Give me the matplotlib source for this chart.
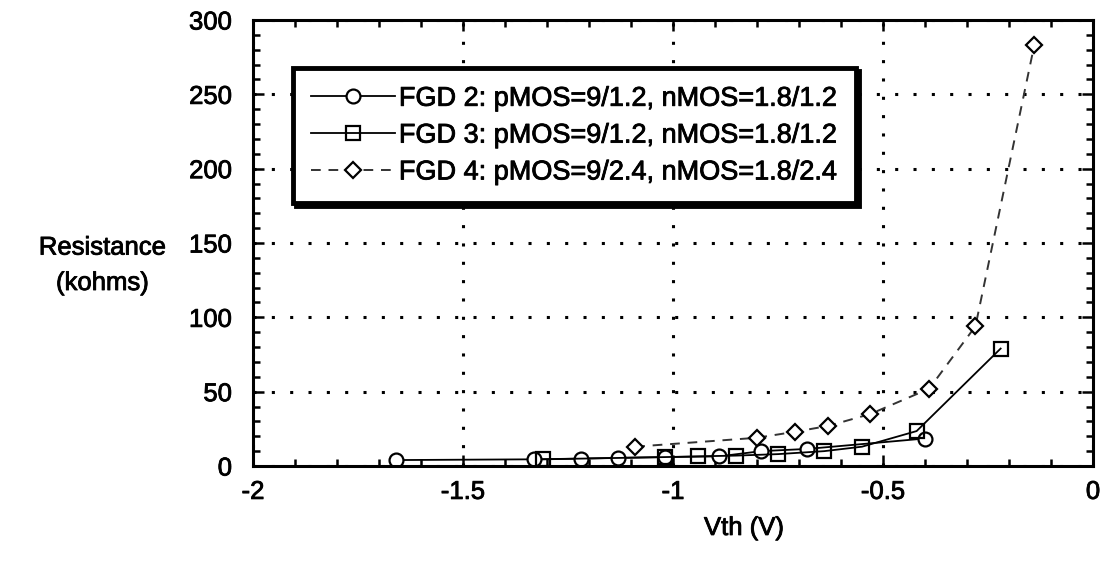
import matplotlib
matplotlib.use("Agg")
import matplotlib.pyplot as plt
import matplotlib.patheffects as pe
from matplotlib.ticker import MultipleLocator

plt.rcParams['font.family'] = ['Liberation Sans', 'DejaVu Sans']
plt.rcParams['axes.unicode_minus'] = False

# threshold voltage (V) vs. resistance (kohms) for the three FGD sizes
vth_fgd2 = [-1.66, -1.33, -1.22, -1.13, -1.02, -0.89, -0.79, -0.68, -0.40]
res_fgd2 = [4, 4.5, 5, 5.5, 6, 6.5, 10, 11.5, 18.5]

vth_fgd3 = [-1.31, -1.02, -0.94, -0.85, -0.75, -0.64, -0.55, -0.42, -0.22]
res_fgd3 = [4.5, 6, 6.5, 7, 8, 10, 13, 23.5, 79]

vth_fgd4 = [-1.09, -0.80, -0.71, -0.63, -0.53, -0.39, -0.28, -0.14]
res_fgd4 = [13, 19, 23, 27, 35, 52, 94, 283]

labels = [
    "FGD 2: pMOS=9/1.2, nMOS=1.8/1.2",
    "FGD 3: pMOS=9/1.2, nMOS=1.8/1.2",
    "FGD 4: pMOS=9/2.4, nMOS=1.8/2.4",
]

x_ticks = [-2, -1.5, -1, -0.5, 0]
x_ticklabels = ['-2', '-1.5', '-1', '-0.5', '0']

fs = 18.5
# slightly heavier glyphs than plain regular weight
heavy = [pe.withStroke(linewidth=0.6, foreground='black')]

fig = plt.figure(figsize=(11.07, 5.62), dpi=100)
ax = fig.add_axes([0.2285, 0.1708, 0.7589, 0.7936])

ax.plot(vth_fgd2, res_fgd2, color='black', lw=1.3, marker='o', ms=10,
        mfc='white', mec='black', mew=1.6, label=labels[0])
ax.plot(vth_fgd3, res_fgd3, color='black', lw=1.3, marker='s', ms=10,
        mfc='none', mec='black', mew=1.6, label=labels[1])
ax.plot(vth_fgd4, res_fgd4, color='#333333', lw=1.4, ls=(0, (5, 4)),
        marker='D', ms=8.5, mfc='white', mec='black', mew=1.6, label=labels[2])

ax.set_xlim(-2, 0)
ax.set_ylim(0, 300)
ax.set_xticks(x_ticks)
ax.set_xticklabels(x_ticklabels)
ax.xaxis.set_minor_locator(MultipleLocator(0.1))
ax.yaxis.set_major_locator(MultipleLocator(50))
ax.yaxis.set_minor_locator(MultipleLocator(10))

ax.tick_params(which='both', direction='in', top=True, right=True,
               width=1.8, labelsize=fs)
ax.tick_params(which='major', length=8)
ax.tick_params(which='minor', length=5)
ax.tick_params(axis='y', pad=15)
ax.tick_params(axis='x', pad=10)

for s in ax.spines.values():
    s.set_linewidth(2.2)

ax.grid(True, which='major', color='black', ls=(0, (1, 5)), lw=2.2)

ax.set_xlabel("Vth (V)", fontsize=fs)
ax.xaxis.set_label_coords(0.5845, -0.112)
ax.set_ylabel("Resistance\n(kohms)", fontsize=fs, rotation=0,
              ha='center', va='center', linespacing=1.6)
ax.yaxis.set_label_coords(-0.179, 0.45)

leg = ax.legend(loc='upper left', bbox_to_anchor=(0.048, 0.892), fontsize=19.5,
                borderaxespad=0, frameon=True, fancybox=False,
                edgecolor='black', framealpha=1, borderpad=0.65,
                labelspacing=0.4, handlelength=3.1, handletextpad=0.15,
                shadow={'color': 'black', 'alpha': 1})
leg.get_frame().set_linewidth(3.5)

texts = (ax.get_xticklabels() + ax.get_yticklabels() + leg.get_texts()
         + [ax.xaxis.label, ax.yaxis.label])
for t in texts:
    t.set_path_effects(heavy)

fig.savefig("out.png", dpi=100)
